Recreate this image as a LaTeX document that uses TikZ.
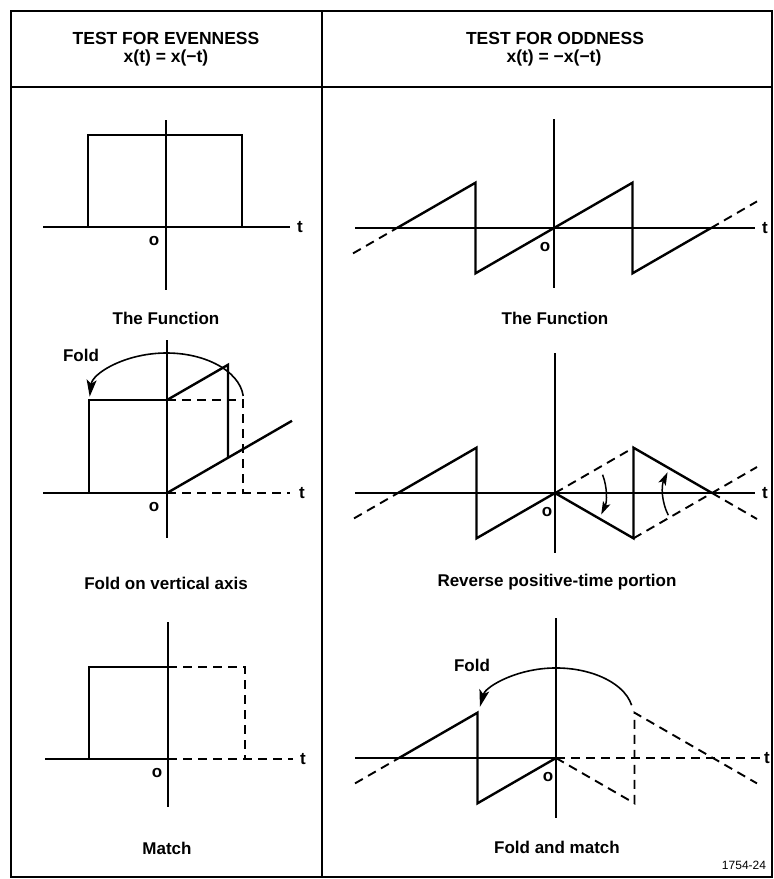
\documentclass[tikz,border=0pt]{standalone}
\usepackage{fontspec}
\setmainfont{Liberation Sans}
\usetikzlibrary{arrows.meta}
\begin{document}
\begin{tikzpicture}[x=1pt,y=-1pt,
  frame/.style={line width=2.8pt},
  axis/.style={line width=1.6pt},
  fn/.style={line width=2.4pt, line join=miter},
  dsh/.style={line width=1.9pt, dash pattern=on 9pt off 6pt},
  lbl/.style={font=\fontsize{17}{20}\selectfont\bfseries, inner sep=0pt},
  hdr/.style={font=\fontsize{17.5}{21}\selectfont\bfseries, inner sep=0pt},
  fold/.style={line width=1.6pt, -{Stealth[length=17pt,width=10pt,inset=4pt]}},
  rot/.style={line width=1.5pt, -{Stealth[length=13pt,width=8pt,inset=3pt]}},
  ]
\useasboundingbox (0,0) rectangle (774,879);
% frame
\draw[frame] (11,11) rectangle (772,877);
\draw[frame] (322,11) -- (322,877);
\draw[frame] (11,87) -- (772,87);
% headers
\node[hdr] (h1) at (166,38) {TEST FOR EVENNESS};
\node[hdr] (h1e) at (166,58) {x(t) = x(−t)};
\node[hdr] (h2) at (555,38) {TEST FOR ODDNESS};
\node[hdr] (h2e) at (554,58) {x(t) = −x(−t)};

% ---------- Panel A: top left ----------
\begin{scope}[shift={(166,227)}]
\coordinate (A0) at (0,0);
\draw[axis] (0,-107) -- (0,63);
\draw[axis] (-123,0) -- (124,0);
\draw[fn] (-123,0) -- (-78,0) -- (-78,-92) -- (76,-92) -- (76,0) -- (124,0);
\node[lbl] (At) at (134,0) {t};
\node[lbl] (Ao) at (-12,14) {o};
\end{scope}
\node[lbl] (capA) at (166,318) {The Function};

% ---------- Panel B: top right ----------
\begin{scope}[shift={(554,228)}]
\coordinate (B0) at (0,0);
\draw[axis] (0,-109) -- (0,60);
\draw[axis] (-199,0) -- (201,0);
\draw[dsh] (-201,25.4) -- (-157,0);
\draw[fn] (-157,0) -- (-78.5,-45.3) -- (-78.5,45.3) -- (78.5,-45.3) -- (78.5,45.3) -- (157,0);
\draw[dsh] (157,0) -- (203,-26.6);
\node[lbl] (Bt) at (211,0) {t};
\node[lbl] (Bo) at (-9,19) {o};
\end{scope}
\node[lbl] (capB) at (555,318) {The Function};

% ---------- Panel C: middle left ----------
\begin{scope}[shift={(167,493)}]
\coordinate (C0) at (0,0);
\draw[axis] (0,-153) -- (0,45);
\draw[axis] (-124,0) -- (0,0);
\draw[dsh] (0,0) -- (123,0);
\draw[fn] (-78,0) -- (-78,-93) -- (0,-93);
\draw[dsh] (0,-93) -- (76,-93) -- (76,0);
\draw[fn] (0,0) -- (125,-72.2);
\draw[fn] (0,-93) -- (61,-128.2) -- (61,-35.2);
\draw[fold] (76.2,-97.1) arc[start angle=-5, end angle=-176, x radius=77, y radius=47];
\node[lbl] (Ct) at (135,0) {t};
\node[lbl] (Co) at (-13,14) {o};
\node[lbl] (Cf) at (-86,-138) {Fold};
\end{scope}
\node[lbl] (capC) at (166,583) {Fold on vertical axis};

% ---------- Panel E: middle right ----------
\begin{scope}[shift={(555,493)}]
\coordinate (E0) at (0,0);
\draw[axis] (0,-140) -- (0,60);
\draw[axis] (-200,0) -- (200,0);
\draw[dsh] (-201,25.4) -- (-157,0);
\draw[fn] (-157,0) -- (-78.5,-45.3) -- (-78.5,45.3) -- (0,0) -- (78.5,45.3) -- (78.5,-45.3) -- (157,0);
\draw[dsh] (157,0) -- (202,26);
\draw[dsh] (0,0) -- (78.5,-45.3);
\draw[dsh] (78.5,45.3) -- (157,0) -- (202,-26);
\draw[rot] (47.6,-18.3) arc[start angle=-21, end angle=25, radius=51];
\draw[rot] (113.3,22.2) arc[start angle=153, end angle=205, radius=49];
\node[lbl] (Et) at (210,0) {t};
\node[lbl] (Eo) at (-8,19) {o};
\end{scope}
\node[lbl] (capE) at (557,582) {Reverse positive-time portion};

% ---------- Panel D: bottom left ----------
\begin{scope}[shift={(168,759)}]
\coordinate (D0) at (0,0);
\draw[axis] (0,-137) -- (0,48);
\draw[fn] (-123,0) -- (0,0);
\draw[dsh] (0,0) -- (125,0);
\draw[fn] (-79,0) -- (-79,-92) -- (0,-92);
\draw[dsh] (0,-92) -- (77,-92) -- (77,0);
\node[lbl] (Dt) at (135,0) {t};
\node[lbl] (Do) at (-11,14) {o};
\end{scope}
\node[lbl] (capD) at (167,848) {Match};

% ---------- Panel F: bottom right ----------
\begin{scope}[shift={(556,758)}]
\coordinate (F0) at (0,0);
\draw[axis] (0,-140) -- (0,60);
\draw[axis] (-201,0) -- (0,0);
\draw[dsh] (0,0) -- (204,0);
\draw[dsh] (-201,25.4) -- (-157,0);
\draw[fn] (-157,0) -- (-78.5,-45.3) -- (-78.5,45.3) -- (0,0);
\draw[dsh] (0,0) -- (78.5,45.3) -- (78.5,-45.3) -- (201,25.4);
\draw[fold] (75.6,-52.8) arc[start angle=-11, end angle=-171, x radius=77, y radius=46];
\node[lbl] (Ft) at (211,0) {t};
\node[lbl] (Fo) at (-8,19) {o};
\node[lbl] (Ff) at (-84,-93) {Fold};
\end{scope}
\node[lbl] (capF) at (557,847) {Fold and match};
\node[font=\fontsize{12}{14}\selectfont, inner sep=0pt] (fig) at (744,865) {1754-24};
\end{tikzpicture}
\end{document}
